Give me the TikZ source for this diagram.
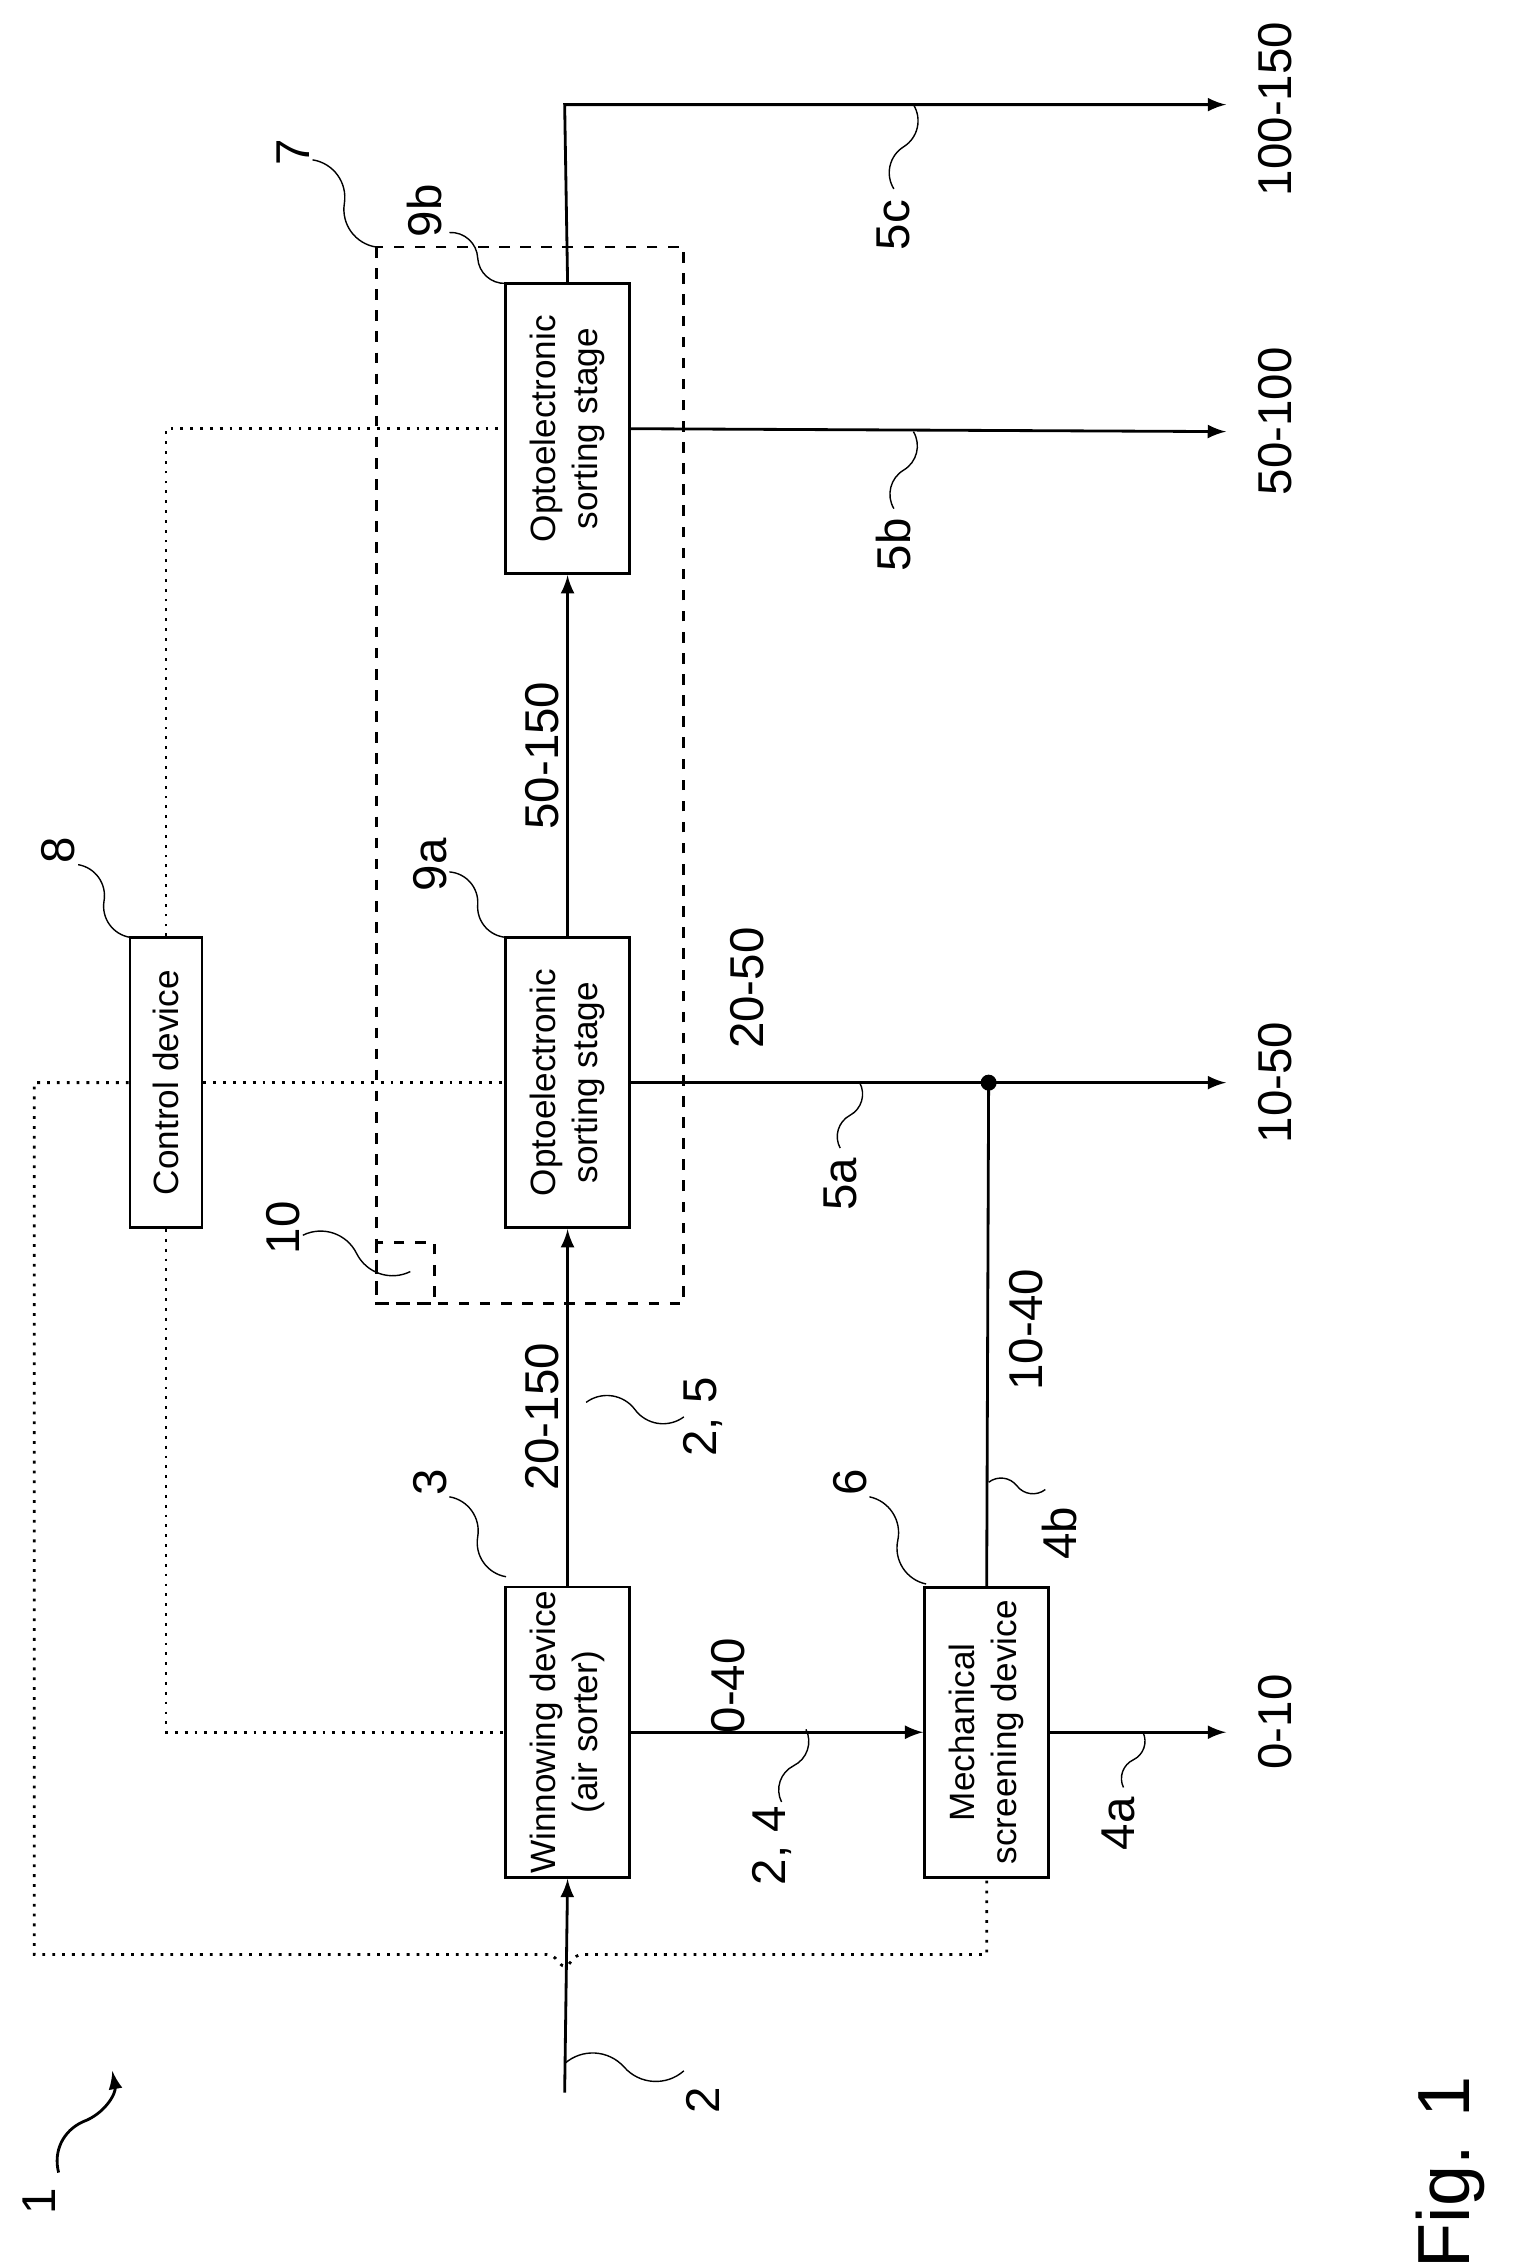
\documentclass[tikz,border=0pt]{standalone}
\usepackage{fontspec}
\setmainfont{Liberation Sans}
\usetikzlibrary{calc}
\tikzset{
  box/.style={draw, thick, rotate=90, align=center, font=\fontsize{10}{12}\selectfont,
    minimum width=2.9cm, minimum height=1.24cm, inner sep=1pt},
  flow/.style={thick, -latex},
  ctrl/.style={thick, dotted},
  lab/.style={rotate=90, font=\fontsize{13.5}{16}\selectfont},
  leader/.style={thin}
}
\newcommand\leader[2]{\draw[leader] (#1) to[bend left=45] ($(#1)!.5!(#2)$) to[bend right=45] (#2);}
\begin{document}
\begin{tikzpicture}[x=0.00976cm, y=-0.01453cm]
    \useasboundingbox (0,0) rectangle (1560,1560);
    % devices
    \node[box] (win) at (581,1192) {Winnowing device\\(air sorter)};
    \node[box] (mech) at (1010,1192) {Mechanical\\screening device};
    \node[box] (optA) at (581,745) {Optoelectronic\\sorting stage};
    \node[box] (optB) at (581,295) {Optoelectronic\\sorting stage};
    \node[box, minimum width=2.9cm, minimum height=0.72cm] (ctl) at (170,745) {Control device};
    % sorting unit 7 and sensor 10
    \draw[thick, dashed] (385,170) rectangle (700,897);
    \draw[thick, dashed] (385,855) rectangle (445,897);
    % material flow
    \coordinate (feed) at (578,1440);
    \coordinate (topB) at (578,72);
    \coordinate (outC) at (1255,72);
    \coordinate (outB) at (1255,297);
    \coordinate (outA) at (1255,745);
    \coordinate (outM) at (1255,1192);
    \coordinate (join) at (1012,745);
    \draw[flow] (feed) -- (win.west);
    \draw[flow] (win.east) -- (optA.west);
    \draw[flow] (optA.east) -- (optB.west);
    \draw[flow] (optB.east) -- (topB) -- (outC);
    \draw[flow] (optB.south) -- (outB);
    \draw[flow] (optA.south) -- (outA);
    \draw[flow] (win.south) -- (mech.north);
    \draw[flow] (mech.south) -- (outM);
    \draw[thick] (mech.east) -- (join);
    \fill (join) circle[radius=0.08cm];
    % control lines
    \draw[ctrl] (ctl.west) |- (win.north);
    \draw[ctrl] (ctl.east) |- (optB.north);
    \draw[ctrl] (ctl.south) -- (optA.north);
    \draw[ctrl] (ctl.north) -- (35,745) -- (35,1345) -- (560,1345)
      .. controls (570,1345) and (572,1353) .. (578,1353)
      .. controls (584,1353) and (586,1345) .. (596,1345) -- (1010,1345) -- (mech.west);
    % fraction labels
    \node[lab] (f1) at (555,975) {20-150};
    \node[lab] (f2) at (555,520) {50-150};
    \node[lab] (f3) at (765,680) {20-50};
    \node[lab] (f4) at (745,1160) {0-40};
    \node[lab] (f5) at (1050,915) {10-40};
    \node[lab] (f6) at (1305,1185) {0-10};
    \node[lab] (f7) at (1305,745) {10-50};
    \node[lab] (f8) at (1305,290) {50-100};
    \node[lab] (f9) at (1305,75) {100-150};
    % reference signs
    \node[lab] (r1) at (40,1515) {1};
    \node[lab] (r2) at (720,1445) {2};
    \node[lab] (r3) at (440,1020) {3};
    \node[lab] (r6) at (870,1020) {6};
    \node[lab] (r7) at (300,105) {7};
    \node[lab] (r8) at (60,585) {8};
    \node[lab] (r9a) at (440,595) {9a};
    \node[lab] (r9b) at (435,145) {9b};
    \node[lab] (r10) at (290,845) {10};
    \node[lab] (r25) at (720,975) {2, 5};
    \node[lab] (r24) at (790,1270) {2, 4};
    \node[lab] (r4a) at (1145,1255) {4a};
    \node[lab] (r4b) at (1085,1055) {4b};
    \node[lab] (r5a) at (860,815) {5a};
    \node[lab] (r5b) at (915,375) {5b};
    \node[lab] (r5c) at (915,155) {5c};
    \node[rotate=90, font=\fontsize{21}{25}\selectfont] (fig) at (1485,1495) {Fig. 1};
    % leaders
    \leader{700,1425}{578,1420}
    \leader{460,1030}{518,1085}
    \leader{890,1030}{948,1090}
    \leader{460,600}{518,645}
    \leader{460,160}{518,195}
    \leader{80,595}{133,645}
    \leader{320,110}{385,170}
    \leader{310,850}{420,875}
    \leader{700,975}{600,965}
    \leader{800,1240}{825,1190}
    \leader{1150,1230}{1170,1192}
    \leader{1070,1025}{1012,1020}
    \leader{860,790}{880,745}
    \leader{915,350}{935,297}
    \leader{915,130}{935,72}
    \draw[thick, -latex] (60,1495) to[bend left=40] (85,1460) to[bend right=40] (115,1425);
\end{tikzpicture}
\end{document}
